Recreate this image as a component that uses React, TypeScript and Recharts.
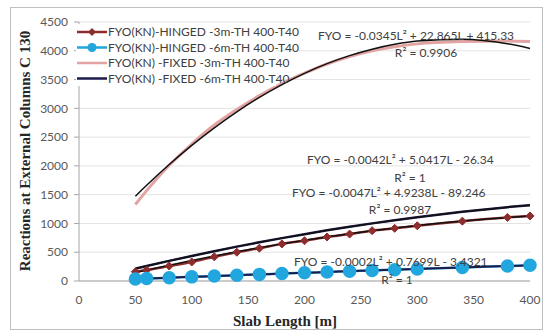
import React from 'react';
import { LineChart, Line, XAxis, YAxis, CartesianGrid } from 'recharts';

const slabLength = [50, 60, 80, 100, 120, 140, 160, 180, 200, 220, 240, 260, 280, 300, 340, 380, 400];
const hinged3m = [160, 190, 260, 330, 420, 500, 570, 645, 700, 765, 815, 875, 915, 960, 1040, 1105, 1130];
const hinged6m = [35, 42, 57, 72, 86, 100, 115, 129, 143, 156, 170, 183, 197, 210, 235, 260, 272];
const fixed3m = [1330, 1570, 2010, 2380, 2710, 2980, 3220, 3430, 3610, 3770, 3900, 4000, 4070, 4120, 4160, 4170, 4160];
const fixed6m = [215, 261, 350, 436, 518, 597, 673, 745, 814, 880, 942, 1001, 1056, 1108, 1202, 1283, 1318];
const trendFixed3m = [1472, 1663, 2024, 2357, 2662, 2940, 3191, 3413, 3608, 3776, 3916, 4028, 4113, 4170, 4201, 4122, 4041];
const trendHinged3m = [145, 189, 275, 356, 434, 508, 578, 645, 708, 766, 822, 873, 920, 965, 1042, 1103, 1128];
const trendHinged6m = [35, 42, 57, 72, 86, 100, 115, 129, 143, 156, 170, 183, 197, 210, 235, 260, 273];
const trendFixed6m = [215, 261, 350, 436, 518, 597, 673, 745, 814, 880, 942, 1001, 1056, 1108, 1202, 1283, 1318];

const xTicks = [0, 50, 100, 150, 200, 250, 300, 350, 400];
const yTicks = [0, 500, 1000, 1500, 2000, 2500, 3000, 3500, 4000, 4500];

const seriesNames = [
  'FYO(KN)-HINGED -3m-TH 400-T40',
  'FYO(KN)-HINGED -6m-TH 400-T40',
  'FYO(KN) -FIXED -3m-TH 400-T40',
  'FYO(KN) -FIXED -6m-TH 400-T40',
];

const equations = [
  { eq: 'FYO = -0.0345L² + 22.865L + 415.33', r2: 'R² = 0.9906', x: 318, y: 40, rx: 426, ry: 57 },
  { eq: 'FYO = -0.0042L² + 5.0417L - 26.34', r2: 'R² = 1', x: 307, y: 164, rx: 410, ry: 182 },
  { eq: 'FYO = -0.0047L² + 4.9238L - 89.246', r2: 'R² = 0.9987', x: 292, y: 197, rx: 400, ry: 214 },
  { eq: 'FYO = -0.0002L² + 0.7699L - 3.4321', r2: 'R² = 1', x: 294, y: 266, rx: 397, ry: 284 },
];

const COLORS = {
  h3: '#8E2D2D',
  h6: '#22A6DE',
  f3: '#E3A3A3',
  f6: '#1E1B4B',
  trend: '#111111',
};

const data = slabLength.map((L, i) => ({
  L,
  h3: hinged3m[i],
  h6: hinged6m[i],
  f3: fixed3m[i],
  f6: fixed6m[i],
  tf3: trendFixed3m[i],
  th3: trendHinged3m[i],
  th6: trendHinged6m[i],
  tf6: trendFixed6m[i],
}));

const FONT = 'Lato, "Open Sans", sans-serif';

const Diamond = (props: any) => {
  const { cx, cy, index } = props;
  if (cx == null || cy == null) return <g key={`d${index}`} />;
  const s = 4;
  return (
    <path
      key={`d${index}`}
      d={`M${cx},${cy - s}L${cx + s},${cy}L${cx},${cy + s}L${cx - s},${cy}Z`}
      fill={COLORS.h3}
      stroke={COLORS.h3}
    />
  );
};

const legendItems = [
  { name: seriesNames[0], color: COLORS.h3, marker: 'diamond' },
  { name: seriesNames[1], color: COLORS.h6, marker: 'circle' },
  { name: seriesNames[2], color: COLORS.f3, marker: 'none' },
  { name: seriesNames[3], color: COLORS.f6, marker: 'none' },
];

export default function App() {
  return (
    <div style={{ position: 'absolute', left: 0, top: 0, width: 544, height: 331, background: '#fff' }}>
      <LineChart
        width={544}
        height={331}
        data={data}
        margin={{ top: 22, right: 14, bottom: 20, left: 10 }}
      >
        <CartesianGrid vertical={false} stroke="#E3E3E3" />
        <XAxis
          dataKey="L"
          type="number"
          domain={[0, 400]}
          ticks={xTicks}
          height={30}
          tickLine={false}
          tickSize={0}
          tickMargin={14}
          axisLine={{ stroke: '#A6A6A6' }}
          tick={{ fontFamily: FONT, fontSize: 12, fill: '#595959' }}
        />
        <YAxis
          type="number"
          domain={[0, 4500]}
          ticks={yTicks}
          width={69}
          tickSize={5}
          tickMargin={6}
          axisLine={{ stroke: '#A6A6A6' }}
          tickLine={{ stroke: '#A6A6A6' }}
          tick={{ fontFamily: FONT, fontSize: 12, fill: '#595959' }}
        />
        <Line dataKey="f3" name={seriesNames[2]} type="monotone" stroke={COLORS.f3} strokeWidth={3} dot={false} isAnimationActive={false} />
        <Line dataKey="f6" name={seriesNames[3]} type="monotone" stroke={COLORS.f6} strokeWidth={2.5} dot={false} isAnimationActive={false} />
        <Line dataKey="h3" name={seriesNames[0]} type="monotone" stroke={COLORS.h3} strokeWidth={2.5} dot={<Diamond />} isAnimationActive={false} />
        <Line dataKey="h6" name={seriesNames[1]} type="monotone" stroke={COLORS.h6} strokeWidth={2.5} dot={{ r: 5.5, fill: COLORS.h6, stroke: COLORS.h6 }} isAnimationActive={false} />
        <Line dataKey="tf3" legendType="none" type="monotone" stroke={COLORS.trend} strokeWidth={1.5} dot={false} isAnimationActive={false} />
        <Line dataKey="th3" legendType="none" type="monotone" stroke={COLORS.trend} strokeWidth={1.5} dot={false} isAnimationActive={false} />
        <Line dataKey="tf6" legendType="none" type="monotone" stroke={COLORS.trend} strokeWidth={1.5} dot={false} isAnimationActive={false} />
        <Line dataKey="th6" legendType="none" type="monotone" stroke={COLORS.f6} strokeWidth={2} dot={false} isAnimationActive={false} />
      </LineChart>
      <svg
        width={544}
        height={331}
        style={{ position: 'absolute', left: 0, top: 0, pointerEvents: 'none' }}
      >
        <rect x={10.5} y={7.5} width={532} height={322} fill="none" stroke="#BFBFBF" />
        <rect x={76} y={24} width={200} height={62} fill="#fff" />
        {legendItems.map((it, i) => {
          const y = 32 + i * 15.5;
          return (
            <g key={it.name}>
              <line x1={77} y1={y} x2={107} y2={y} stroke={it.color} strokeWidth={2.5} />
              {it.marker === 'diamond' && <path d={`M92,${y - 4}L96,${y}L92,${y + 4}L88,${y}Z`} fill={it.color} />}
              {it.marker === 'circle' && <circle cx={92} cy={y} r={4.5} fill={it.color} />}
              <text x={108} y={y + 4} fontFamily={FONT} fontSize={12} fill="#404040">{it.name}</text>
            </g>
          );
        })}
        {equations.map((e) => (
          <g key={e.eq} fontFamily={FONT} fontSize={12} fill="#404040">
            <text x={e.x} y={e.y}>{e.eq}</text>
            <text x={e.rx} y={e.ry} textAnchor="middle">{e.r2}</text>
          </g>
        ))}
        <text
          x={30}
          y={151}
          transform="rotate(-90 30 151)"
          textAnchor="middle"
          fontFamily='"Liberation Serif", "Times New Roman", serif'
          fontWeight="bold"
          fontSize={15}
          fill="#262626"
        >
          Reactions at External Columns C 130
        </text>
        <text
          x={285}
          y={326}
          textAnchor="middle"
          fontFamily='"Liberation Serif", "Times New Roman", serif'
          fontWeight="bold"
          fontSize={15}
          fill="#262626"
        >
          Slab Length [m]
        </text>
      </svg>
    </div>
  );
}
